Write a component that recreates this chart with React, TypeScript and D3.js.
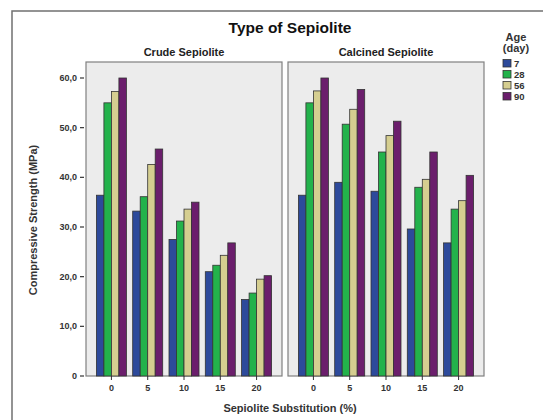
import React from "react";
import * as d3 from "d3";

const categories = ["0", "5", "10", "15", "20"];
const ages = ["7", "28", "56", "90"];
const panels = ["Crude Sepiolite", "Calcined Sepiolite"];
const crude7 = [36.4, 33.2, 27.5, 21.0, 15.4];
const crude28 = [55.0, 36.1, 31.2, 22.3, 16.7];
const crude56 = [57.3, 42.6, 33.6, 24.3, 19.5];
const crude90 = [60.0, 45.7, 35.0, 26.8, 20.2];
const calc7 = [36.4, 39.0, 37.2, 29.6, 26.8];
const calc28 = [55.0, 50.7, 45.1, 38.0, 33.6];
const calc56 = [57.4, 53.7, 48.4, 39.6, 35.3];
const calc90 = [60.0, 57.7, 51.3, 45.1, 40.4];
const yTicks = [0, 10, 20, 30, 40, 50, 60];
const yTickLabels = ["0", "10,0", "20,0", "30,0", "40,0", "50,0", "60,0"];
const colors = ["#2d4a9b", "#23b24b", "#d5ce90", "#6b1e6c"];

const panelData = [
  [crude7, crude28, crude56, crude90],
  [calc7, calc28, calc56, calc90],
];

export default function App() {
  const W = 543, H = 420;
  const panelX = [86, 288];
  const panelW = 196;
  const top = 62, bottom = 376;
  const y = d3.scaleLinear().domain([0, 60]).range([bottom, 78]);
  const font = "'Liberation Sans', Arial, sans-serif";

  return (
    <svg width={W} height={H} style={{ position: "absolute", left: 0, top: 0 }} fontFamily={font}>
      <rect x={0} y={0} width={W} height={H} fill="#fff" />
      <rect x={12} y={11} width={560} height={440} fill="#fff" stroke="#707070" strokeWidth={1.5} />
      <text x={290} y={33} textAnchor="middle" fontSize={15.5} fontWeight="bold" fill="#111">Type of Sepiolite</text>
      {panels.map((name, pi) => {
        const x0 = panelX[pi];
        const x = d3.scalePoint<string>().domain(categories).range([x0, x0 + panelW]).padding(0.7);
        const inner = d3.scaleBand<string>().domain(ages).range([-15, 15]).padding(0);
        return (
          <g key={name}>
            <text x={x0 + panelW / 2} y={56} textAnchor="middle" fontSize={11} fontWeight="bold" fill="#222">{name}</text>
            <rect x={x0} y={top} width={panelW} height={bottom - top} fill="#ececec" stroke="#808080" strokeWidth={1.2} />
            {categories.map((c, ci) => (
              <g key={c}>
                {ages.map((a, ai) => {
                  const v = panelData[pi][ai][ci];
                  return (
                    <rect key={a}
                      x={(x(c) as number) + (inner(a) as number)}
                      y={y(v)}
                      width={inner.bandwidth()}
                      height={bottom - y(v)}
                      fill={colors[ai]}
                      stroke="#333"
                      strokeWidth={0.8} />
                  );
                })}
                <line x1={x(c)} x2={x(c)} y1={bottom} y2={bottom + 4} stroke="#333" strokeWidth={1} />
                <text x={x(c)} y={391} textAnchor="middle" fontSize={9} fontWeight="bold" fill="#333">{c}</text>
              </g>
            ))}
          </g>
        );
      })}
      {yTicks.map((t, i) => (
        <g key={t}>
          <line x1={80} x2={84} y1={y(t)} y2={y(t)} stroke="#333" strokeWidth={1.2} />
          <text x={77} y={y(t) + 3} textAnchor="end" fontSize={9} fontWeight="bold" fill="#333">{yTickLabels[i]}</text>
        </g>
      ))}
      <text transform={`translate(37,${220}) rotate(-90)`} textAnchor="middle" fontSize={11} fontWeight="bold" fill="#333">Compressive Strength (MPa)</text>
      <text x={290} y={412} textAnchor="middle" fontSize={11} fontWeight="bold" fill="#333">Sepiolite Substitution (%)</text>
      <text x={516} y={41} textAnchor="middle" fontSize={11} fontWeight="bold" fill="#333">Age</text>
      <text x={516} y={52} textAnchor="middle" fontSize={11} fontWeight="bold" fill="#333">(day)</text>
      {ages.map((a, i) => (
        <g key={a}>
          <rect x={503} y={59.5 + i * 11} width={8} height={7.5} fill={colors[i]} stroke="#333" strokeWidth={0.8} />
          <text x={514} y={67 + i * 11} fontSize={9.5} fontWeight="bold" fill="#333">{a}</text>
        </g>
      ))}
    </svg>
  );
}
